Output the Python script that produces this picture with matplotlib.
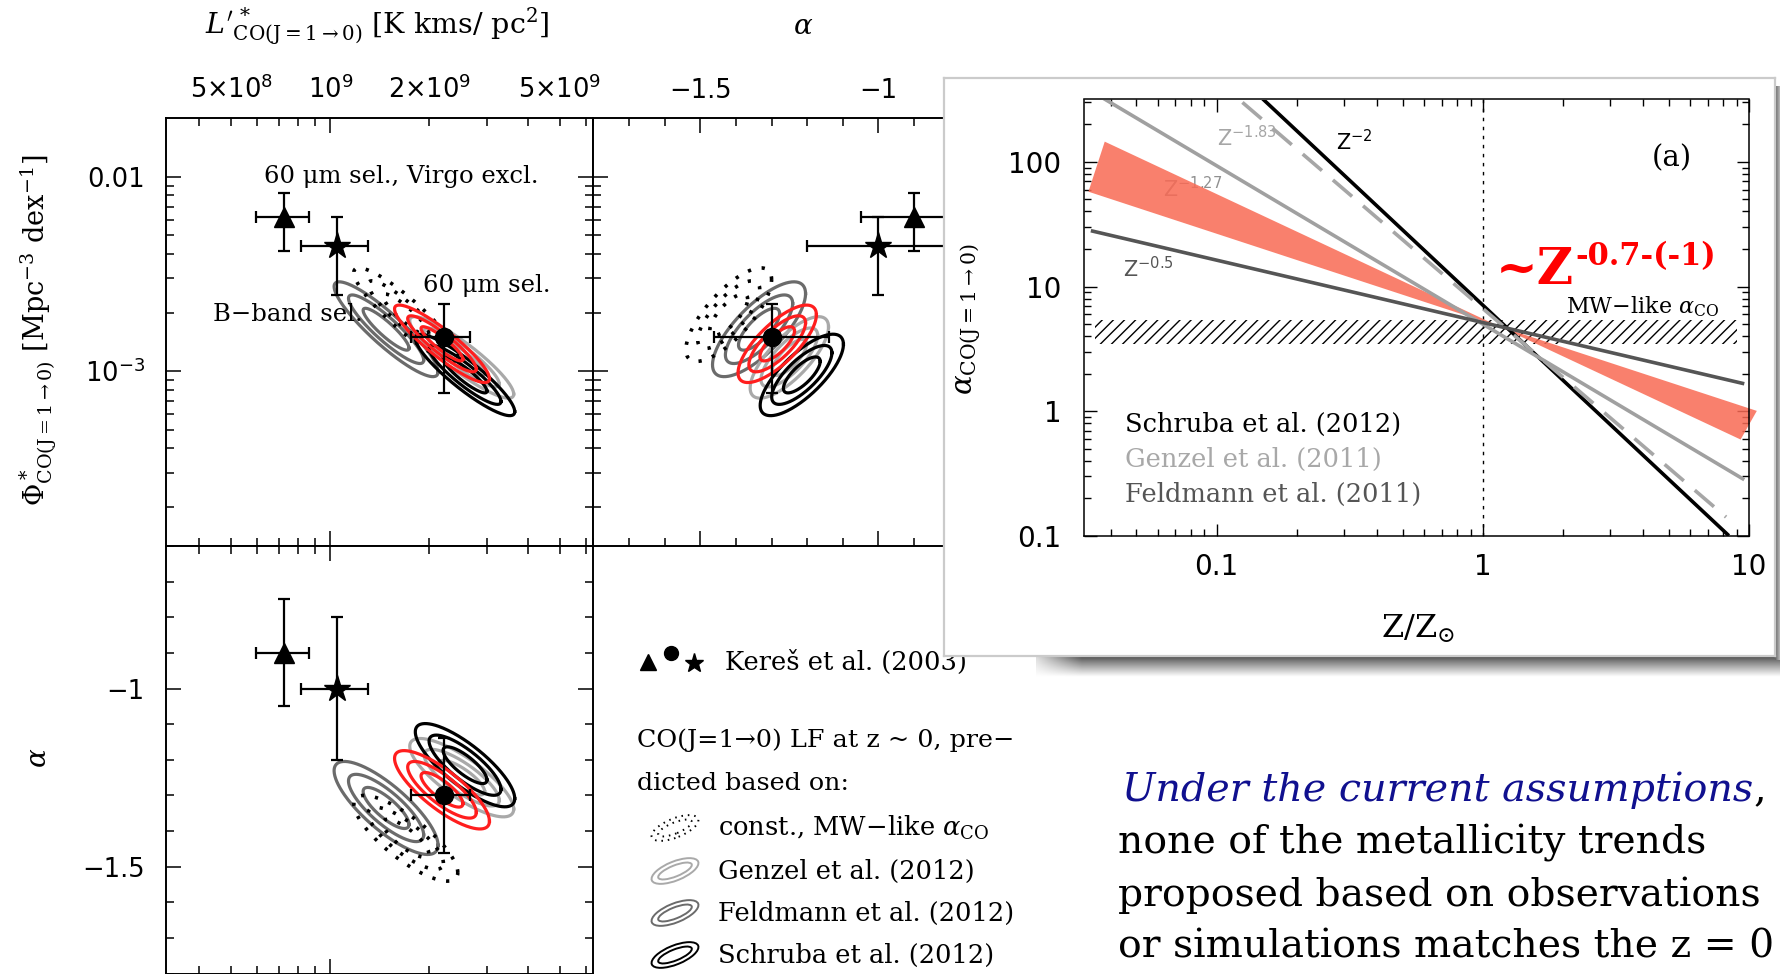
import numpy as np
import matplotlib
matplotlib.use("Agg")
import matplotlib.pyplot as plt
from matplotlib.patches import Ellipse, Polygon
from matplotlib.ticker import (FixedLocator, FuncFormatter, NullFormatter,
                               LogLocator, MultipleLocator)

W, H, DPI = 1781, 974, 100
plt.rcParams["font.family"] = ["DejaVu Sans"]
plt.rcParams["mathtext.fontset"] = "dejavusans"
plt.rcParams["hatch.linewidth"] = 1.0

# ---------------- Kereš et al. (2003) Schechter fits ----------------
keres_marker = ["^", "o", "*"]
keres_msize = [15, 13, 20]
keres_logL = [8.860, 9.345, 9.020]
keres_logL_lo = [0.085, 0.098, 0.108]
keres_logL_hi = [0.077, 0.080, 0.096]
keres_logphi = [-2.208, -2.824, -2.359]
keres_logphi_lo = [0.175, 0.290, 0.248]
keres_logphi_hi = [0.124, 0.167, 0.152]
keres_alpha = [-0.90, -1.30, -1.00]
keres_alpha_err = [0.15, 0.16, 0.20]

# ------------- predicted CO(1-0) LF parameters (centre, 1 sigma) -------------
pred_names = ["feldmann", "const", "genzel", "schruba", "fiducial"]
pred_logL = [9.17, 9.23, 9.40, 9.41, 9.34]
pred_logphi = [-2.785, -2.71, -2.93, -3.02, -2.86]
pred_alpha = [-1.335, -1.42, -1.25, -1.215, -1.284]
pred_sig_logL = [0.046, 0.046, 0.046, 0.044, 0.042]
pred_sig_logphi = [0.071, 0.070, 0.061, 0.061, 0.058]
pred_sig_alpha = [0.038, 0.035, 0.032, 0.034, 0.032]
rho_L_phi = -0.90
rho_L_alpha = -0.80
rho_alpha_phi = 0.75
dchi2_levels = [2.30, 6.17, 11.8]

pred_color = ["#6b6b6b", "black", "#a9a9a9", "black", "#ff1e1e"]
pred_ls = ["-", (0, (0.9, 3.0)), "-", "-", "-"]

# L'* tick values and labels
L_major = [1e9]
L_minor = [4e8, 5e8, 6e8, 7e8, 8e8, 9e8, 2e9, 3e9, 4e9, 5e9, 6e9]
L_labels = {5e8: r"$5{\times}10^{8}$", 1e9: r"$10^{9}$",
            2e9: r"$2{\times}10^{9}$", 5e9: r"$5{\times}10^{9}$"}
phi_labels = {1e-2: "0.01", 1e-3: r"$10^{-3}$"}

# ---------------- alpha_CO(Z) trends ----------------
trend_slope = [-2.0, -1.83, -1.27, -0.5]
trend_norm = [7.1, 6.67, 5.0, 5.15]
trend_zmin = [0.0316, 0.0316, 0.0316, 0.0337]
trend_zmax = [8.4, 8.2, 9.6, 9.6]
trend_color = ["black", "#a6a6a6", "#a0a0a0", "#555555"]
trend_ls = ["-", (0, (7, 4)), "-", "-"]

band_slopes = [-1.0, -0.7]          # ~Z^-0.7 ... Z^-1
band_pivot_Z, band_pivot_alpha = 1.15, 4.8
band_Z_left = [0.038, 0.033]        # upper, lower end of the left wing
band_Z_right = [10.7, 9.3]          # upper, lower end of the right wing

mw_alpha_range = [3.45, 5.35]
mw_Z_range = [0.035, 9.0]

inset_legend = ["Schruba et al. (2012)", "Genzel et al. (2011)", "Feldmann et al. (2011)"]
inset_legend_color = ["black", "#a8a8a8", "#555555"]

# ======================================================================
fig = plt.figure(figsize=(W / DPI, H / DPI), dpi=DPI)
fig.patch.set_facecolor("white")


def rect(x0, y0, x1, y1):
    return [x0 / W, 1 - y1 / H, (x1 - x0) / W, (y1 - y0) / H]


def fx(x):
    return x / W


def fy(y):
    return 1 - y / H


XL, XM, XR = 165.7, 593.3, 1021.0
YT, YM, YB = 118.3, 546.0, 973.7

ax_lp = fig.add_axes(rect(XL, YT, XM, YM))
ax_ap = fig.add_axes(rect(XM, YT, XR, YM))
ax_la = fig.add_axes(rect(XL, YM, XM, YB))


def frame(ax):
    ax.tick_params(which="both", direction="in", top=True, bottom=True,
                   left=True, right=True, width=1.1, labelsize=18.5,
                   labeltop=False, labelbottom=False, labelleft=False,
                   labelright=False)
    ax.tick_params(which="major", length=11)
    ax.tick_params(which="minor", length=6)
    ax.tick_params(axis="x", which="both", pad=10)
    ax.tick_params(axis="y", which="both", pad=15)
    for s in ax.spines.values():
        s.set_linewidth(1.4)


def set_L_axis(axis):
    axis.set_major_locator(FixedLocator(L_major))
    axis.set_minor_locator(FixedLocator(L_minor))
    fmt = FuncFormatter(lambda v, p: L_labels.get(float(f"{v:.3g}"), ""))
    axis.set_major_formatter(fmt)
    axis.set_minor_formatter(fmt)


def set_phi_axis(axis):
    axis.set_major_locator(LogLocator(base=10, numticks=10))
    axis.set_minor_locator(LogLocator(base=10, subs=np.arange(2, 10), numticks=20))
    axis.set_major_formatter(FuncFormatter(lambda v, p: phi_labels.get(float(f"{v:.3g}"), "")))
    axis.set_minor_formatter(NullFormatter())


def set_alpha_axis(axis):
    axis.set_major_locator(MultipleLocator(0.5))
    axis.set_minor_locator(MultipleLocator(0.1))
    axis.set_major_formatter(FuncFormatter(lambda v, p: f"{v:g}".replace("-", "\u2212")))


for ax in (ax_lp, ax_ap, ax_la):
    frame(ax)

ax_lp.set_xscale("log"); ax_lp.set_yscale("log")
ax_lp.set_xlim(10 ** 8.5, 10 ** 9.8)
ax_lp.set_ylim(10 ** -3.9, 10 ** -1.7)
set_L_axis(ax_lp.xaxis); set_phi_axis(ax_lp.yaxis)
ax_lp.tick_params(which="both", labeltop=True, labelleft=True)

ax_ap.set_yscale("log")
ax_ap.set_xlim(-1.8, -0.6)
ax_ap.set_ylim(10 ** -3.9, 10 ** -1.7)
set_alpha_axis(ax_ap.xaxis); set_phi_axis(ax_ap.yaxis)
ax_ap.tick_params(which="both", labeltop=True)

ax_la.set_xscale("log")
ax_la.set_xlim(10 ** 8.5, 10 ** 9.8)
ax_la.set_ylim(-1.8, -0.6)
set_L_axis(ax_la.xaxis); set_alpha_axis(ax_la.yaxis)
ax_la.tick_params(which="both", labelleft=True)


def contour_xy(cx, cy, sx, sy, rho, level, n=240):
    t = np.linspace(0, 2 * np.pi, n)
    cov = np.array([[sx * sx, rho * sx * sy], [rho * sx * sy, sy * sy]])
    chol = np.linalg.cholesky(cov)
    pts = np.sqrt(level) * chol @ np.vstack([np.cos(t), np.sin(t)])
    return cx + pts[0], cy + pts[1]


for i in range(len(pred_names)):
    for lev in dchi2_levels:
        lw = 2.6 if pred_ls[i] != "-" else 2.3
        kw = dict(color=pred_color[i], ls=pred_ls[i], lw=lw, zorder=2 + 0.1 * i)
        x, y = contour_xy(pred_logL[i], pred_logphi[i], pred_sig_logL[i],
                          pred_sig_logphi[i], rho_L_phi, lev)
        ax_lp.plot(10 ** x, 10 ** y, **kw)
        x, y = contour_xy(pred_alpha[i], pred_logphi[i], pred_sig_alpha[i],
                          pred_sig_logphi[i], rho_alpha_phi, lev)
        ax_ap.plot(x, 10 ** y, **kw)
        x, y = contour_xy(pred_logL[i], pred_alpha[i], pred_sig_logL[i],
                          pred_sig_alpha[i], rho_L_alpha, lev)
        ax_la.plot(10 ** x, y, **kw)

ebkw = dict(color="black", ecolor="black", elinewidth=1.6, capsize=4,
            capthick=1.6, zorder=6, mec="black", mfc="black")
for i in range(3):
    L = 10 ** keres_logL[i]
    Lerr = [[L - 10 ** (keres_logL[i] - keres_logL_lo[i])],
            [10 ** (keres_logL[i] + keres_logL_hi[i]) - L]]
    phi = 10 ** keres_logphi[i]
    phierr = [[phi - 10 ** (keres_logphi[i] - keres_logphi_lo[i])],
              [10 ** (keres_logphi[i] + keres_logphi_hi[i]) - phi]]
    a = keres_alpha[i]
    aerr = [[keres_alpha_err[i]], [keres_alpha_err[i]]]
    m, ms = keres_marker[i], keres_msize[i]
    ax_lp.errorbar([L], [phi], xerr=Lerr, yerr=phierr, fmt=m, ms=ms, **ebkw)
    ax_ap.errorbar([a], [phi], xerr=aerr, yerr=phierr, fmt=m, ms=ms, **ebkw)
    ax_la.errorbar([L], [a], xerr=Lerr, yerr=aerr, fmt=m, ms=ms, **ebkw)

# axis titles and panel annotations
serif = dict(family="DejaVu Serif", math_fontfamily="dejavuserif")
fig.text(fx(377), fy(27), r"$L'^{\,*}_{\rm CO(J=1\rightarrow0)}$ [K kms/ pc$^2$]",
         ha="center", va="center", size=20.5, **serif)
fig.text(fx(803), fy(26), r"$\alpha$", ha="center", va="center", size=20, **serif)
fig.text(fx(38), fy(330), r"$\Phi^*_{\rm CO(J=1\rightarrow0)}$ [Mpc$^{-3}$ dex$^{-1}$]",
         ha="center", va="center", rotation=90, size=19.5, **serif)
fig.text(fx(39), fy(758), r"$\alpha$", ha="center", va="center", rotation=90,
         size=20, **serif)

fig.text(fx(264), fy(176.5), "60 \u03bcm sel., Virgo excl.", ha="left", va="center", size=17.5, **serif)
fig.text(fx(423), fy(285.7), "60 \u03bcm sel.", ha="left", va="center", size=17.5, **serif)
fig.text(fx(213.5), fy(314.3), "B\u2212band sel.", ha="left", va="center", size=17.5, **serif)

# legend area
ax_key = fig.add_axes([0, 0, 1, 1], zorder=2)
ax_key.set_xlim(0, W); ax_key.set_ylim(0, H); ax_key.axis("off")
ax_key.patch.set_alpha(0)
ax_key.plot([648], [H - 662], "^", ms=11, color="black")
ax_key.plot([671], [H - 653], "o", ms=10, color="black")
ax_key.plot([694], [H - 663], "*", ms=14, color="black")
fig.text(fx(725), fy(662), "Kere\u0161 et al. (2003)", ha="left", va="center", size=18.5, **serif)
fig.text(fx(637), fy(740), "CO(J=1\u21920) LF at z ~ 0, pre\u2212", ha="left", va="center", size=18.3, **serif)
fig.text(fx(637), fy(783), "dicted based on:", ha="left", va="center", size=18.3, **serif)

key_labels = [r"const., MW$-$like $\alpha_{\rm CO}$", "Genzel et al. (2012)",
              "Feldmann et al. (2012)", "Schruba et al. (2012)"]
key_color = ["black", "#a9a9a9", "#6b6b6b", "black"]
key_ls = [(0, (0.8, 2.5)), "-", "-", "-"]
key_y = [828, 871, 913, 955]
for lab, c, ls, yk in zip(key_labels, key_color, key_ls, key_y):
    for wdt, hgt in ((50, 19), (36, 11)):
        ax_key.add_patch(Ellipse((675, H - yk), wdt, hgt, angle=22, fill=False,
                                 edgecolor=c, lw=1.4, ls=ls))
    fig.text(fx(718), fy(yk), lab, ha="left", va="center", size=18.5, **serif)

# ---------------- inset: alpha_CO vs metallicity ----------------
ax_frame = fig.add_axes(rect(944, 78, 1775, 656), zorder=5)
ax_frame.set_xticks([]); ax_frame.set_yticks([])
for s in ax_frame.spines.values():
    s.set_color("#cbcbcb"); s.set_linewidth(1.6)

# drop shadow below and to the right of the inset frame
rows = np.linspace(0, 1, 30)[:, None]
cols = np.linspace(0, 1, 300)[None, :]
dark = 0.30 + 0.55 * np.clip(1 - cols / 0.06, 0, 1)
shade = dark + (1 - dark) * rows ** 0.9
ax_sh = fig.add_axes(rect(1036, 656, 1781, 677), zorder=4)
ax_sh.imshow(shade, cmap="gray", vmin=0, vmax=1, aspect="auto", interpolation="bilinear")
ax_sh.axis("off")
side = np.linspace(0.38, 0.8, 20)[None, :] * np.ones((50, 1))
ax_sd = fig.add_axes(rect(1775, 86, 1781, 660), zorder=4)
ax_sd.imshow(side, cmap="gray", vmin=0, vmax=1, aspect="auto")
ax_sd.axis("off")

ax_in = fig.add_axes(rect(1083.5, 99.5, 1749, 536), zorder=6)
ax_in.patch.set_alpha(0)
ax_in.set_xscale("log"); ax_in.set_yscale("log")
ax_in.set_xlim(10 ** -1.5, 10); ax_in.set_ylim(0.1, 10 ** 2.5)
ax_in.tick_params(which="both", direction="in", top=True, right=True,
                  width=1.0, labelsize=20)
ax_in.tick_params(which="major", length=9)
ax_in.tick_params(which="minor", length=5)
ax_in.tick_params(axis="x", which="both", pad=12)
ax_in.tick_params(axis="y", which="both", pad=16)
for s in ax_in.spines.values():
    s.set_linewidth(1.1)
for axis in (ax_in.xaxis, ax_in.yaxis):
    axis.set_major_locator(LogLocator(base=10, numticks=10))
    axis.set_minor_locator(LogLocator(base=10, subs=np.arange(2, 10), numticks=20))
    axis.set_major_formatter(FuncFormatter(lambda v, p: f"{v:g}"))
    axis.set_minor_formatter(NullFormatter())

mwZ = np.array(mw_Z_range)
ax_in.fill_between(mwZ, mw_alpha_range[0], mw_alpha_range[1], facecolor="none",
                   edgecolor="black", hatch="///", linewidth=0, zorder=1)
ax_in.axvline(1.0, color="black", lw=1.0, ls=(0, (2.5, 4)), zorder=1)

# band between Z^-1 and Z^-0.7 through a common pivot
lo_s, hi_s = band_slopes
up_left = band_pivot_alpha * (band_Z_left[0] / band_pivot_Z) ** lo_s
lo_left = band_pivot_alpha * (band_Z_left[1] / band_pivot_Z) ** hi_s
up_right = band_pivot_alpha * (band_Z_right[0] / band_pivot_Z) ** hi_s
lo_right = band_pivot_alpha * (band_Z_right[1] / band_pivot_Z) ** lo_s
band_pts = [(band_Z_left[0], up_left), (band_pivot_Z, band_pivot_alpha),
            (band_Z_right[0], up_right), (band_Z_right[1], lo_right),
            (band_pivot_Z, band_pivot_alpha), (band_Z_left[1], lo_left)]
ax_in.add_patch(Polygon(band_pts, closed=True, facecolor="#f96a54", alpha=0.85,
                        edgecolor="none", zorder=2, clip_on=False))

for s, nrm, z0, z1, c, ls in zip(trend_slope, trend_norm, trend_zmin, trend_zmax,
                                  trend_color, trend_ls):
    zz = np.array([z0, z1])
    ax_in.plot(zz, nrm * zz ** s, color=c, ls=ls, lw=2.6, zorder=3,
               solid_capstyle="butt")

tf = fig.transFigure
ax_in.text(fx(1354), fy(142), r"$\mathrm{Z}^{-2}$", transform=tf, ha="center",
           va="center", size=15, color="black", zorder=4)
ax_in.text(fx(1247), fy(138), r"$\mathrm{Z}^{-1.83}$", transform=tf, ha="center",
           va="center", size=15, color="#a6a6a6", zorder=4)
ax_in.text(fx(1193), fy(189), r"$\mathrm{Z}^{-1.27}$", transform=tf, ha="center",
           va="center", size=15, color="#909090", zorder=1)
ax_in.text(fx(1148), fy(269), r"$\mathrm{Z}^{-0.5}$", transform=tf, ha="center",
           va="center", size=15, color="#555555", zorder=4)
ax_in.text(fx(1672), fy(158), "(a)", transform=tf, ha="center", va="center",
           size=21, family="DejaVu Serif", zorder=4)
ax_in.text(fx(1643), fy(307), r"MW$-$like $\alpha_{\rm CO}$", transform=tf,
           ha="center", va="center", size=16, zorder=4, **serif)
tz = ax_in.text(fx(1496), fy(271), "~Z", transform=tf, ha="left", va="center",
                size=36, color="#ff0000", weight="bold", family="DejaVu Serif",
                zorder=5)
for lab, c, yy in zip(inset_legend, inset_legend_color, [424, 459, 494]):
    ax_in.text(fx(1125), fy(yy), lab, transform=tf, ha="left", va="center",
               size=18.5, color=c, family="DejaVu Serif", zorder=4)
ax_in.text(fx(969), fy(319), r"$\alpha_{\rm CO(J=1\rightarrow0)}$", transform=tf,
           ha="center", va="center", rotation=90, size=21, zorder=4, **serif)
ax_in.text(fx(1418), fy(629), r"Z/Z$_{\odot}$", transform=tf, ha="center",
           va="center", size=23, zorder=4, **serif)

# ---------------- statement ----------------
t1 = fig.text(fx(1122), fy(790), "Under the current assumptions", ha="left",
              va="center", size=28.5, style="italic", color="#10108f",
              family="DejaVu Serif")
fig.canvas.draw()
bb = t1.get_window_extent()
fig.text(bb.x1 / W, fy(790), ",", ha="left", va="center", size=28.5,
         family="DejaVu Serif")
bz = tz.get_window_extent()
ax_in.text((bz.x1 + 1) / W, fy(257), "-0.7-(-1)", transform=tf, ha="left",
           va="center", size=22, color="#ff0000", weight="bold",
           family="DejaVu Serif", zorder=5)
for txt, yy in zip(["none of the metallicity trends",
                    "proposed based on observations",
                    "or simulations matches the z = 0"], [843, 895, 947]):
    fig.text(fx(1118), fy(yy), txt, ha="left", va="center", size=28.3,
             family="DejaVu Serif")

fig.savefig("out.png", dpi=DPI)
